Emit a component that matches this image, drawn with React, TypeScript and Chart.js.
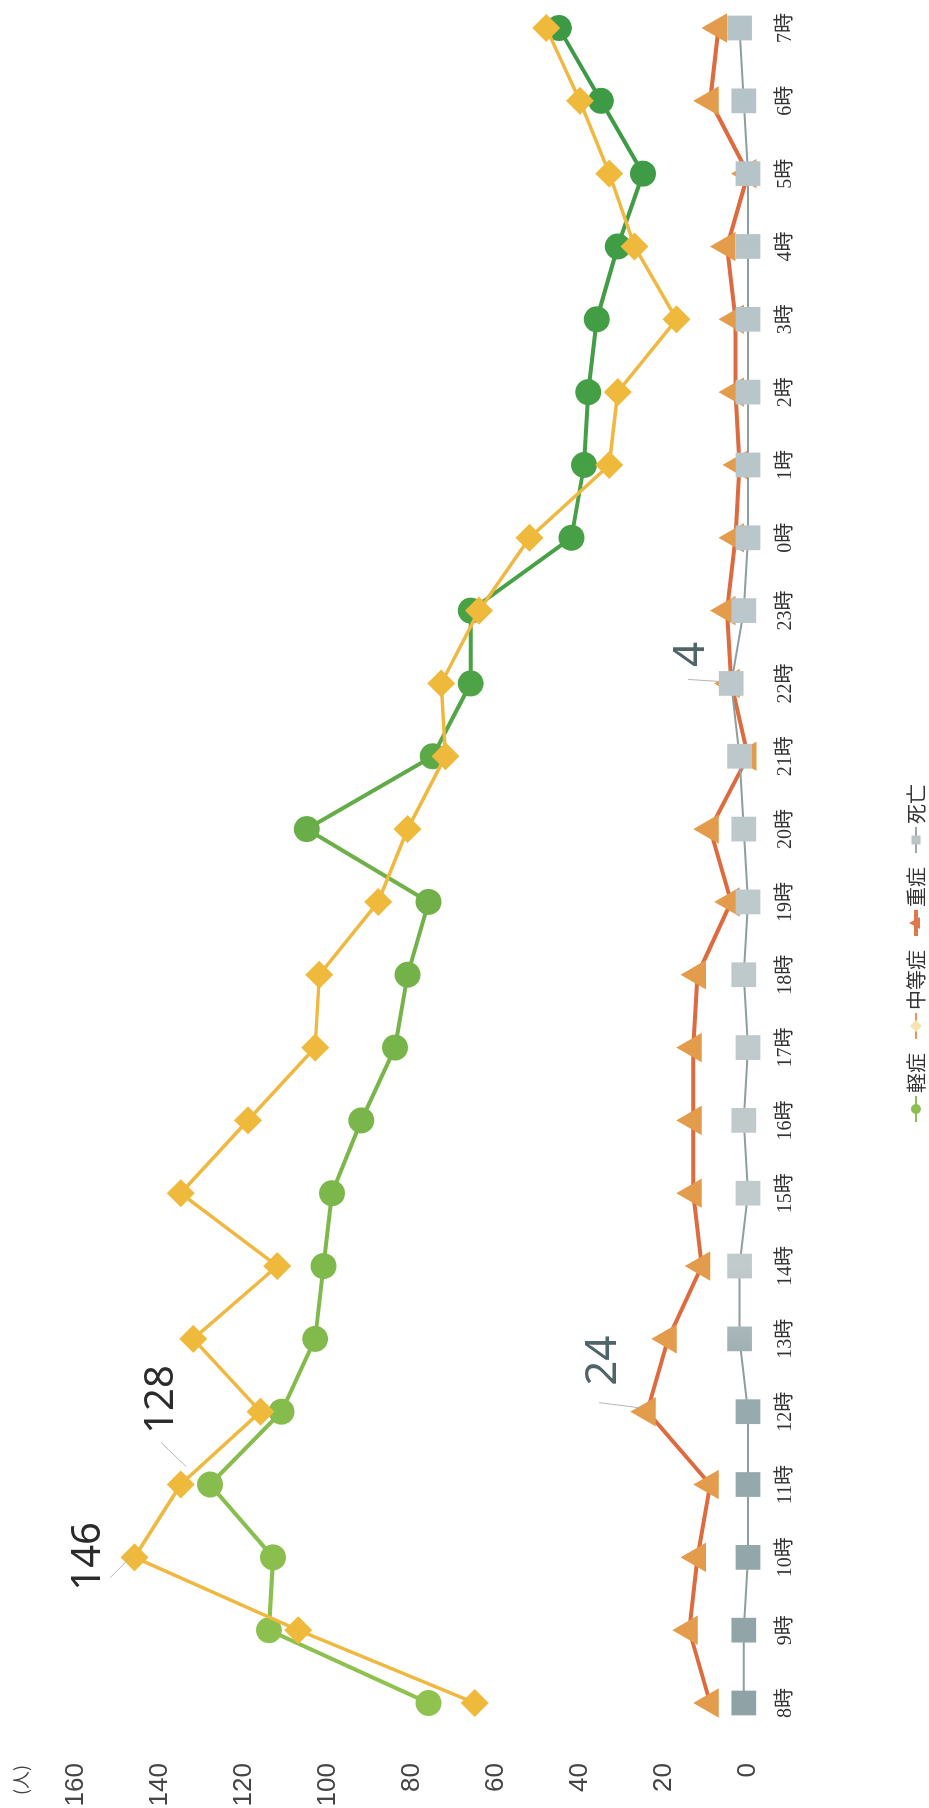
import React, { useEffect, useRef } from 'react';
import { Chart, registerables } from 'chart.js';

Chart.register(...registerables);

// ---- data ----
const categories = ['8時', '9時', '10時', '11時', '12時', '13時', '14時', '15時', '16時', '17時', '18時', '19時', '20時', '21時', '22時', '23時', '0時', '1時', '2時', '3時', '4時', '5時', '6時', '7時'];
const mildValues = [76, 114, 113, 128, 111, 103, 101, 99, 92, 84, 81, 76, 105, 75, 66, 66, 42, 39, 38, 36, 31, 25, 35, 45];
const moderateValues = [65, 107, 146, 135, 116, 132, 112, 135, 119, 103, 102, 88, 81, 72, 73, 64, 52, 33, 31, 17, 27, 33, 40, 48];
const severeValues = [9, 14, 12, 9, 24, 19, 11, 13, 13, 13, 12, 4, 9, 0, 4, 5, 3, 2, 3, 3, 5, 0, 9, 7];
const deathValues = [1, 1, 0, 0, 0, 2, 2, 0, 1, 0, 1, 0, 1, 2, 4, 1, 0, 0, 0, 0, 0, 0, 1, 2];
const seriesNames = ['軽症', '中等症', '重症', '死亡'];
const yMin = 0;
const yMax = 160;
const yStep = 20;
const yUnit = '(人)';

const W = 1808;
const H = 929;

export default function App() {
  const ref = useRef<HTMLCanvasElement>(null);

  useEffect(() => {
    document.body.style.margin = '0';
    const canvas = ref.current;
    if (!canvas) return;

    const grad = (stops: [number, string][]) => (ctx: any) => {
      const chart = ctx.chart;
      const a = chart.chartArea;
      if (!a) return stops[0][1];
      const g = chart.ctx.createLinearGradient(a.left, 0, a.right, 0);
      stops.forEach(([o, c]) => g.addColorStop(o, c));
      return g;
    };
    const greenGrad = grad([[0, '#8fc24f'], [0.5, '#70b048'], [0.62, '#4aa246'], [1, '#3c9a45']]);
    const greyGrad = grad([[0, '#8fa3a6'], [0.2, '#98abae'], [0.26, '#c2cbcc'], [1, '#b4c3c8']]);

    const annotations = [
      { series: 1, index: 2, dx: 1, dy: -46, l1: [-20, -24], l2: [0, -4], color: '#2b2b2b', size: 40 },
      { series: 0, index: 3, dx: 85, dy: -48, l1: [42, -49], l2: [18, -24], color: '#2b2b2b', size: 40 },
      { series: 2, index: 4, dx: 51, dy: -44, l1: [9, -48], l2: [4, -8], color: '#4f6567', size: 44 },
      { series: 3, index: 14, dx: 29, dy: -40, l1: [4, -43], l2: [2, -12], color: '#4f6567', size: 44 },
    ];

    const overlay = {
      id: 'overlay',
      afterDatasetsDraw(chart: any) {
        const ctx = chart.ctx;
        ctx.save();
        annotations.forEach((an) => {
          const pt = chart.getDatasetMeta(an.series).data[an.index];
          if (!pt) return;
          const value = chart.data.datasets[an.series].data[an.index];
          ctx.strokeStyle = '#b5b5b5';
          ctx.lineWidth = 1;
          ctx.beginPath();
          ctx.moveTo(pt.x + an.l1[0], pt.y + an.l1[1]);
          ctx.lineTo(pt.x + an.l2[0], pt.y + an.l2[1]);
          ctx.stroke();
          ctx.fillStyle = an.color;
          ctx.font = `${an.size}px "Noto Sans", "Liberation Sans", sans-serif`;
          ctx.textAlign = 'center';
          ctx.textBaseline = 'middle';
          ctx.fillText(String(value), pt.x + an.dx, pt.y + an.dy);
        });
        ctx.restore();
      },
      afterDraw(chart: any) {
        const ctx = chart.ctx;
        ctx.save();
        ctx.fillStyle = '#444';
        ctx.font = '18px "Noto Sans CJK JP", sans-serif';
        ctx.textAlign = 'center';
        ctx.textBaseline = 'middle';
        ctx.fillText(yUnit, 28, 21);

        const items = [
          { name: seriesNames[0], line: '#8cbf50', lw: 2, marker: 'circle', fill: '#8cbf50' },
          { name: seriesNames[1], line: '#e9955a', lw: 2, marker: 'diamond', fill: '#f6e3b0' },
          { name: seriesNames[2], line: '#e0774d', lw: 4, marker: 'triangle', fill: '#e0774d' },
          { name: seriesNames[3], line: '#9aa8aa', lw: 2, marker: 'square', fill: '#b9c3c4' },
        ];
        ctx.font = '20px "Noto Sans CJK JP", sans-serif';
        const lineLen = 26;
        const gapAfterMarker = 3;
        const gapBetween = 14;
        let total = 0;
        items.forEach((it, i) => {
          total += lineLen + gapAfterMarker + ctx.measureText(it.name).width + (i < items.length - 1 ? gapBetween : 0);
        });
        const cy = 916;
        let x = 855 - total / 2;
        items.forEach((it) => {
          ctx.strokeStyle = it.line;
          ctx.lineWidth = it.lw;
          ctx.beginPath();
          ctx.moveTo(x, cy);
          ctx.lineTo(x + lineLen, cy);
          ctx.stroke();
          const mx = x + lineLen / 2;
          ctx.fillStyle = it.fill;
          ctx.beginPath();
          if (it.marker === 'circle') {
            ctx.arc(mx, cy, 5, 0, Math.PI * 2);
          } else if (it.marker === 'diamond') {
            ctx.moveTo(mx - 6, cy);
            ctx.lineTo(mx, cy - 6);
            ctx.lineTo(mx + 6, cy);
            ctx.lineTo(mx, cy + 6);
            ctx.closePath();
          } else if (it.marker === 'triangle') {
            ctx.moveTo(mx, cy - 7);
            ctx.lineTo(mx + 6, cy + 4);
            ctx.lineTo(mx - 6, cy + 4);
            ctx.closePath();
          } else {
            ctx.rect(mx - 4.5, cy - 4.5, 9, 9);
          }
          ctx.fill();
          x += lineLen + gapAfterMarker;
          ctx.fillStyle = '#333';
          ctx.textAlign = 'left';
          ctx.textBaseline = 'middle';
          ctx.fillText(it.name, x, cy);
          x += ctx.measureText(it.name).width + gapBetween;
        });
        ctx.restore();
      },
    };

    const chart = new Chart(canvas, {
      type: 'line',
      data: {
        labels: categories,
        datasets: [
          {
            label: seriesNames[0],
            data: mildValues,
            borderColor: greenGrad,
            backgroundColor: greenGrad,
            pointBackgroundColor: greenGrad,
            pointBorderColor: greenGrad,
            borderWidth: 4,
            pointStyle: 'circle',
            pointRadius: 13,
            pointBorderWidth: 0,
            order: 4,
            clip: false,
          },
          {
            label: seriesNames[1],
            data: moderateValues,
            borderColor: '#eeb841',
            backgroundColor: '#efb93c',
            pointBackgroundColor: '#efb93c',
            pointBorderColor: '#efb93c',
            borderWidth: 3.5,
            pointStyle: 'rectRot',
            pointRadius: 14,
            pointBorderWidth: 0,
            order: 3,
            clip: false,
          },
          {
            label: seriesNames[2],
            data: severeValues,
            borderColor: '#de6a3f',
            backgroundColor: '#e39b4c',
            pointBackgroundColor: '#e39b4c',
            pointBorderColor: '#e39b4c',
            borderWidth: 4,
            pointStyle: 'triangle',
            pointRadius: 17,
            pointBorderWidth: 0,
            order: 2,
            clip: false,
          },
          {
            label: seriesNames[3],
            data: deathValues,
            borderColor: '#8d9ea1',
            backgroundColor: greyGrad,
            pointBackgroundColor: greyGrad,
            pointBorderColor: greyGrad,
            borderWidth: 2,
            pointStyle: 'rect',
            pointRadius: 17.5,
            pointBorderWidth: 0,
            order: 1,
            clip: false,
          },
        ],
      },
      options: {
        responsive: false,
        animation: false,
        events: [],
        layout: { padding: { top: 68, right: 28, bottom: 0, left: 0 } },
        plugins: {
          legend: { display: false },
          tooltip: { enabled: false },
        },
        scales: {
          x: {
            type: 'category',
            offset: false,
            grid: { display: false, drawTicks: false },
            border: { display: false },
            ticks: {
              padding: 26,
              autoSkip: false,
              maxRotation: 0,
              color: '#333',
              font: { family: '"Liberation Serif", "Noto Sans CJK JP", serif', size: 20 },
            },
            afterFit: (s: any) => {
              s.height = 181;
              s.paddingLeft = 0;
              s.paddingRight = 0;
            },
          },
          y: {
            min: yMin,
            max: yMax,
            grid: { display: false, drawTicks: false },
            border: { display: false },
            ticks: {
              stepSize: yStep,
              padding: 60,
              color: '#444',
              font: { family: '"Liberation Sans", Arial, sans-serif', size: 26 },
            },
            afterFit: (s: any) => {
              s.width = 105;
            },
          },
        },
      },
      plugins: [overlay],
    } as any);

    return () => chart.destroy();
  }, []);

  return (
    <div style={{ position: 'absolute', left: 0, top: 0, width: 929, height: 1808, overflow: 'hidden', background: '#fff' }}>
      <div
        style={{
          position: 'absolute',
          left: 0,
          top: 0,
          width: W,
          height: H,
          transformOrigin: '0 0',
          transform: `translate(0px, ${W}px) rotate(-90deg)`,
        }}
      >
        <canvas ref={ref} width={W} height={H} style={{ width: W, height: H, display: 'block' }} />
      </div>
    </div>
  );
}
